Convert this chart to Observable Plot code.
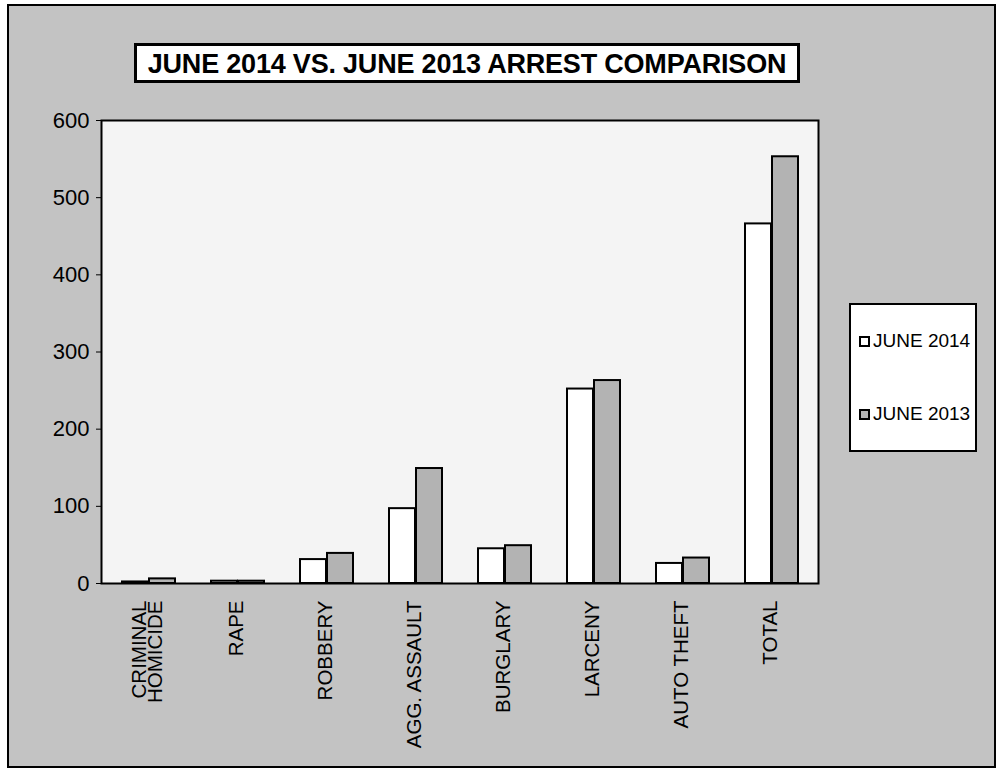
<!DOCTYPE html>
<html><head><meta charset="utf-8">
<script src="https://cdn.jsdelivr.net/npm/d3@7"></script>
<script src="https://cdn.jsdelivr.net/npm/@observablehq/plot@0.6"></script>
<style>
body{margin:0;background:#fff;}
#wrap{position:relative;width:997px;height:770px;font-family:"Liberation Sans",Arial,sans-serif;overflow:hidden;}
#bg{position:absolute;left:7px;top:4px;width:985px;height:760px;border:2px solid #000;background:#c3c3c3;}
#title{position:absolute;left:134px;top:43px;width:660px;height:34px;border:3px solid #000;background:#fff;font-weight:bold;font-size:27px;text-align:center;line-height:36px;color:#000;white-space:nowrap;letter-spacing:-0.2px;}
#chart{position:absolute;left:0;top:0;}
#legend{position:absolute;left:849px;top:303px;width:124px;height:145px;border:2px solid #000;background:#fff;font-size:19px;color:#000;}
.item{position:absolute;left:8px;display:flex;align-items:center;white-space:nowrap;}
.sw{width:7px;height:7px;border:2px solid #000;margin-right:3px;}
</style></head>
<body>
<div id="wrap">
  <div id="bg"></div>
  <div id="title"></div>
  <div id="chart"></div>
  <div id="legend"></div>
</div>
<script>
const titleText = "JUNE 2014 VS. JUNE 2013 ARREST COMPARISON";
const categories = ["CRIMINAL\nHOMICIDE","RAPE","ROBBERY","AGG. ASSAULT","BURGLARY","LARCENY","AUTO THEFT","TOTAL"];
const june2014 = [2,3,31,97,45,252,26,466];
const june2013 = [6,3,39,149,49,263,33,553];
const seriesNames = ["JUNE 2014","JUNE 2013"];
const seriesFills = ["#ffffff","#b3b3b3"];
const yTicks = [0,100,200,300,400,500,600];

const rows2014 = categories.map((c,i)=>({cat:c, value:june2014[i], series:seriesNames[0]}));
const rows2013 = categories.map((c,i)=>({cat:c, value:june2013[i], series:seriesNames[1]}));

document.getElementById("title").textContent = titleText;

const chart = Plot.plot({
  width: 997, height: 770,
  marginLeft: 101, marginRight: 179, marginTop: 120, marginBottom: 187,
  style: {background: "transparent", fontFamily: "'Liberation Sans', Arial, sans-serif", fontSize: "20px", color: "#000"},
  x: {domain: categories, padding: 0},
  y: {domain: [0,600]},
  marks: [
    Plot.frame({fill: "#f4f4f4"}),
    Plot.barY(rows2014, {x: "cat", y: "value", fill: seriesFills[0], stroke: "#000", strokeWidth: 2, insetLeft: 18, insetRight: 45}),
    Plot.barY(rows2013, {x: "cat", y: "value", fill: seriesFills[1], stroke: "#000", strokeWidth: 2, insetLeft: 45, insetRight: 18}),
    Plot.axisX({tickSize: 0, tickRotate: -90, tickPadding: 17, fontSize: 20.5, lineHeight: 0.78, label: null}),
    Plot.axisY({ticks: yTicks, tickSize: 5, tickPadding: 7, fontSize: 22, label: null}),
    Plot.frame({stroke: "#000", strokeWidth: 2})
  ]
});
document.getElementById("chart").appendChild(chart);

const legend = document.getElementById("legend");
const tops = [25, 98];
seriesNames.forEach((name,i)=>{
  const it = document.createElement("div");
  it.className = "item";
  it.style.top = tops[i] + "px";
  const sw = document.createElement("div");
  sw.className = "sw";
  sw.style.background = seriesFills[i];
  const t = document.createElement("span");
  t.textContent = name;
  it.appendChild(sw); it.appendChild(t);
  legend.appendChild(it);
});
</script>
</body></html>
